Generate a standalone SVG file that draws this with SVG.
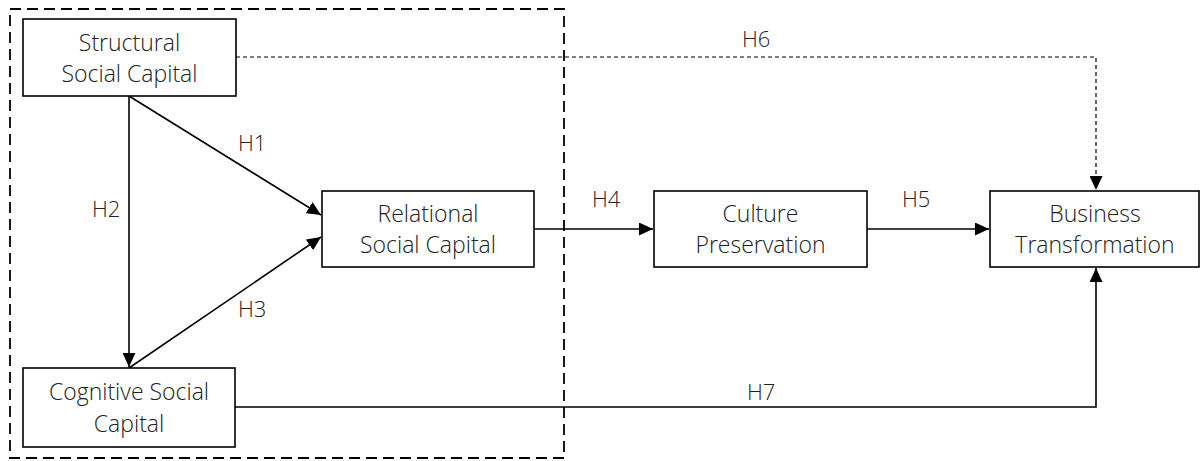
<svg xmlns="http://www.w3.org/2000/svg" width="1200" height="461" viewBox="0 0 1200 461">
<defs>
<marker id="arr" markerUnits="userSpaceOnUse" markerWidth="15" markerHeight="13" refX="14" refY="6.5" orient="auto">
<path d="M0,0 L14,6.5 L0,13 Z" fill="#000"/>
</marker>
<style>
.box{fill:#fff;stroke:#000;stroke-width:1.6}
.t{font-family:"Open Sans","Liberation Sans",sans-serif;font-weight:300;font-size:23px;fill:#222;text-anchor:middle}
.l{font-family:"Open Sans","Liberation Sans",sans-serif;font-weight:300;font-size:22px;fill:#222}
.c{fill:none;stroke:#000;stroke-width:1.6}
.d{fill:none;stroke:#000;stroke-width:1.2;stroke-dasharray:4,3}
</style>
</defs>
<rect x="10" y="9" width="554" height="449" fill="none" stroke="#000" stroke-width="1.8" stroke-dasharray="11,6"/>
<g id="connectors">
<path class="d" d="M236,57 H1096 V190" marker-end="url(#arr)"/>
<path class="c" d="M129,96 V367" marker-end="url(#arr)"/>
<path class="c" d="M129,96 L321,215" marker-end="url(#arr)"/>
<path class="c" d="M129,368 L321,237" marker-end="url(#arr)"/>
<path class="c" d="M534,229 H653" marker-end="url(#arr)"/>
<path class="c" d="M867,229 H989" marker-end="url(#arr)"/>
<path class="c" d="M235,407 H1096 V268" marker-end="url(#arr)"/>
<text class="l" x="238" y="151">H1</text>
<text class="l" x="92" y="217">H2</text>
<text class="l" x="238" y="317">H3</text>
<text class="l" x="592" y="207">H4</text>
<text class="l" x="902" y="207">H5</text>
<text class="l" x="742" y="47">H6</text>
<text class="l" x="747" y="400">H7</text>
</g>
<g id="structural">
<rect class="box" x="23" y="19" width="213" height="77"/>
<text class="t" x="129.5" y="51">Structural</text>
<text class="t" x="129.5" y="82">Social Capital</text>
</g>
<g id="relational">
<rect class="box" x="322" y="191" width="212" height="76"/>
<text class="t" x="428" y="222">Relational</text>
<text class="t" x="428" y="253">Social Capital</text>
</g>
<g id="culture">
<rect class="box" x="654" y="191" width="213" height="76"/>
<text class="t" x="760.5" y="222">Culture</text>
<text class="t" x="760.5" y="253">Preservation</text>
</g>
<g id="business">
<rect class="box" x="990" y="191" width="209" height="76"/>
<text class="t" x="1095" y="222">Business</text>
<text class="t" x="1095" y="253">Transformation</text>
</g>
<g id="cognitive">
<rect class="box" x="23" y="368" width="212" height="79"/>
<text class="t" x="129" y="400">Cognitive Social</text>
<text class="t" x="129" y="432">Capital</text>
</g>
</svg>
